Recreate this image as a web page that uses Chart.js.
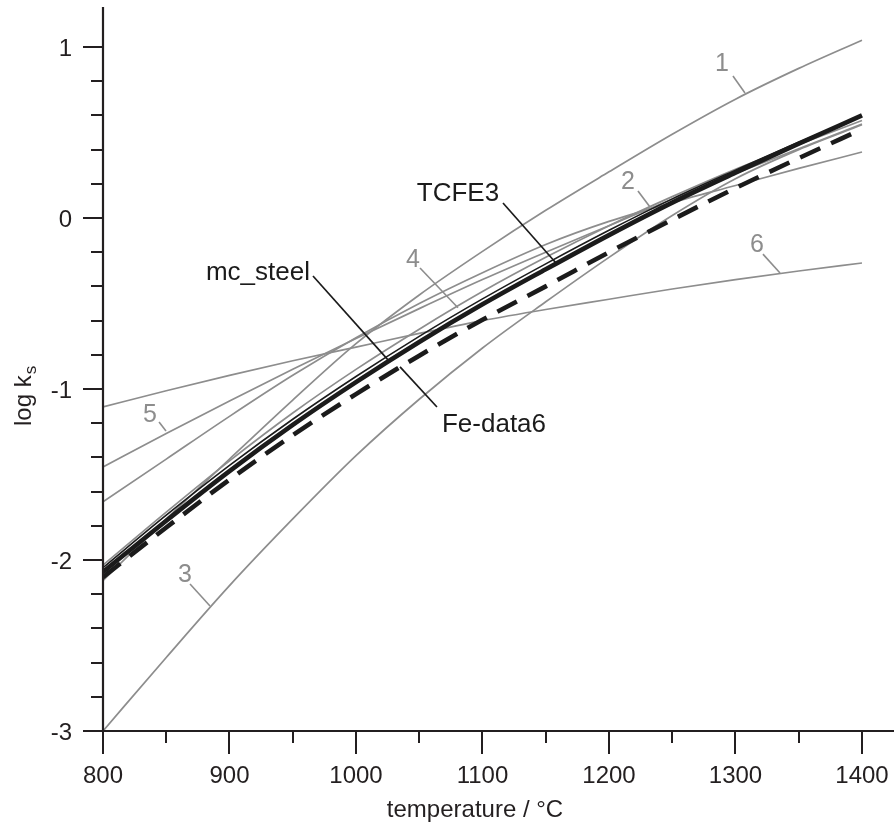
<!DOCTYPE html>
<html>
<head>
<meta charset="utf-8">
<script src="https://cdn.jsdelivr.net/npm/chart.js@4.4.1/dist/chart.umd.min.js"></script>
<style>
html,body{margin:0;padding:0;background:#fff;}
#wrap{width:894px;height:825px;}
</style>
</head>
<body>
<div id="wrap"><canvas id="c" width="894" height="825"></canvas></div>
<script>
// ---- data ----
const temps   = [800, 850, 900, 950, 1000, 1050, 1100, 1150, 1200, 1250, 1300, 1350, 1400];
const curve1  = [-2.12, -1.76, -1.41, -1.065, -0.735, -0.45, -0.195, 0.045, 0.27, 0.49, 0.695, 0.875, 1.04];
const curve2  = [-1.66, -1.41, -1.16, -0.92, -0.70, -0.50, -0.32, -0.155, -0.02, 0.09, 0.19, 0.29, 0.386];
const curve3  = [-3.0, -2.57, -2.15, -1.76, -1.39, -1.06, -0.76, -0.49, -0.23, 0.015, 0.23, 0.40, 0.545];
const curve4  = [-2.03, -1.72, -1.42, -1.14, -0.885, -0.65, -0.43, -0.23, -0.045, 0.125, 0.285, 0.43, 0.57];
const curve5  = [-1.456, -1.26, -1.07, -0.885, -0.705, -0.53, -0.36, -0.20, -0.045, 0.11, 0.26, 0.405, 0.55];
const curve6  = [-1.105, -1.01, -0.92, -0.835, -0.755, -0.675, -0.60, -0.535, -0.475, -0.415, -0.36, -0.31, -0.263];
const mcSteel = [-2.07, -1.77, -1.48, -1.21, -0.96, -0.725, -0.505, -0.30, -0.10, 0.09, 0.265, 0.435, 0.60];
const tcfe3   = [-2.045, -1.738, -1.447, -1.177, -0.927, -0.692, -0.473, -0.268, -0.072, 0.112, 0.28, 0.443, 0.597];
const feData6 = [-2.10, -1.81, -1.53, -1.27, -1.03, -0.805, -0.595, -0.40, -0.20, -0.01, 0.175, 0.35, 0.52];

const xMajorTicks = [800, 900, 1000, 1100, 1200, 1300, 1400];
const xMinorTicks = [850, 950, 1050, 1150, 1250, 1350];
const yMajorTicks = [-3, -2, -1, 0, 1];
const yMinorTicks = [-2.8, -2.6, -2.4, -2.2, -1.8, -1.6, -1.4, -1.2, -0.8, -0.6, -0.4, -0.2, 0.2, 0.4, 0.6, 0.8];

const xTitle = 'temperature / °C';
const yTitleMain = 'log k';
const yTitleSub = 's';

// curve labels: [text, textT, textY, leaderT1, leaderY1, leaderT2, leaderY2, kind]
const curveLabels = [
  ['1', 1289.3, 0.912, 1298.0, 0.830, 1307.5, 0.731, 'num'],
  ['2', 1215.0, 0.222, 1222.9, 0.158, 1232.4, 0.065, 'num'],
  ['3', 864.8, -2.076, 868.8, -2.140, 884.6, -2.269, 'num'],
  ['4', 1045.1, -0.234, 1050.6, -0.292, 1080.6, -0.525, 'num'],
  ['5', 837.2, -1.140, 844.3, -1.193, 849.8, -1.245, 'num'],
  ['6', 1317.0, -0.146, 1321.7, -0.211, 1335.2, -0.322, 'num'],
  ['TCFE3', 1080.6, 0.152, 1116.2, 0.088, 1158.1, -0.263, 'name'],
  ['mc_steel', 922.5, -0.310, 966.0, -0.339, 1025.3, -0.830, 'name'],
  ['Fe-data6', 1109.1, -1.199, 1034.8, -0.871, 1064.0, -1.105, 'name']
];

const GRAY = '#8d8d8d';
const BLACK = '#1b1b1b';
const AXIS = '#231f20';
const FONT = '"Liberation Sans", Arial, Helvetica, sans-serif';

function pts(arr){ return temps.map((t,i)=>({x:t, y:arr[i]})); }

function grayDs(label, arr){
  return {label, data: pts(arr), borderColor: GRAY, borderWidth: 1.7, pointRadius: 0,
          cubicInterpolationMode: 'monotone', fill: false};
}

const datasets = [
  {label:'TCFE3', data: pts(tcfe3), borderColor: BLACK, borderWidth: 1.6, pointRadius: 0,
   cubicInterpolationMode: 'monotone', fill: false},
  {label:'mc_steel', data: pts(mcSteel), borderColor: BLACK, borderWidth: 4.6, pointRadius: 0,
   cubicInterpolationMode: 'monotone', fill: false},
  {label:'Fe-data6', data: pts(feData6), borderColor: BLACK, borderWidth: 4.6, pointRadius: 0,
   borderDash: [22, 12], borderCapStyle: 'butt', cubicInterpolationMode: 'monotone', fill: false},
  grayDs('1', curve1),
  grayDs('2', curve2),
  grayDs('3', curve3),
  grayDs('4', curve4),
  grayDs('5', curve5),
  grayDs('6', curve6)
];

const decorPlugin = {
  id: 'decor',
  afterDatasetsDraw(chart){
    const ctx = chart.ctx;
    const xs = chart.scales.x, ys = chart.scales.y;
    const X = v => xs.getPixelForValue(v);
    const Y = v => ys.getPixelForValue(v);
    const x0 = X(800), y0 = Y(-3);
    const area = chart.chartArea;
    ctx.save();
    // axes
    ctx.strokeStyle = AXIS;
    ctx.lineWidth = 2.2;
    ctx.lineCap = 'butt';
    ctx.beginPath();
    ctx.moveTo(x0, area.top); ctx.lineTo(x0, y0 + 1.1);
    ctx.moveTo(x0 - 1.1, y0); ctx.lineTo(area.right, y0);
    ctx.stroke();
    // ticks
    ctx.lineWidth = 2;
    ctx.beginPath();
    xMajorTicks.forEach(t => { const px = Math.round(X(t)); ctx.moveTo(px, y0); ctx.lineTo(px, y0 + 23); });
    xMinorTicks.forEach(t => { const px = Math.round(X(t)); ctx.moveTo(px, y0); ctx.lineTo(px, y0 + 12); });
    yMajorTicks.forEach(v => { const py = Math.round(Y(v)); ctx.moveTo(x0, py); ctx.lineTo(x0 - 20, py); });
    yMinorTicks.forEach(v => { const py = Math.round(Y(v)); ctx.moveTo(x0, py); ctx.lineTo(x0 - 12, py); });
    ctx.stroke();
    // tick labels
    ctx.fillStyle = AXIS;
    ctx.font = '24px ' + FONT;
    ctx.textAlign = 'center';
    ctx.textBaseline = 'alphabetic';
    xMajorTicks.forEach(t => ctx.fillText(String(t), X(t), y0 + 52));
    ctx.textAlign = 'right';
    yMajorTicks.forEach(v => ctx.fillText(String(v), x0 - 31, Y(v) + 8.5));
    // x title
    ctx.textAlign = 'center';
    ctx.font = '24px ' + FONT;
    ctx.fillText(xTitle, 475, 817);
    // y title with subscript
    ctx.save();
    ctx.translate(31, 426);
    ctx.rotate(-Math.PI / 2);
    ctx.textAlign = 'left';
    ctx.font = '24px ' + FONT;
    ctx.fillText(yTitleMain, 0, 0);
    const w = ctx.measureText(yTitleMain).width;
    ctx.font = '17px ' + FONT;
    ctx.fillText(yTitleSub, w + 1, 5);
    ctx.restore();
    // curve labels with leaders
    curveLabels.forEach(l => {
      const [txt, tt, ty, a1, b1, a2, b2, kind] = l;
      const col = kind === 'num' ? GRAY : BLACK;
      ctx.strokeStyle = col;
      ctx.lineWidth = kind === 'num' ? 1.6 : 1.7;
      ctx.beginPath();
      ctx.moveTo(X(a1), Y(b1));
      ctx.lineTo(X(a2), Y(b2));
      ctx.stroke();
      ctx.fillStyle = col;
      ctx.font = (kind === 'num' ? '25px ' : '26px ') + FONT;
      ctx.textAlign = 'center';
      ctx.textBaseline = 'alphabetic';
      ctx.fillText(txt, X(tt), Y(ty) + (kind === 'num' ? 9 : 9.3));
    });
    ctx.restore();
  }
};

new Chart(document.getElementById('c').getContext('2d'), {
  type: 'line',
  data: { datasets },
  options: {
    responsive: false,
    animation: false,
    devicePixelRatio: 1,
    layout: { padding: { left: 103, right: 0, top: 7, bottom: 94 } },
    plugins: { legend: { display: false }, tooltip: { enabled: false } },
    scales: {
      x: { type: 'linear', min: 800, max: 1425.3, display: false },
      y: { type: 'linear', min: -3, max: 1.234, display: false }
    },
    elements: { line: { borderJoinStyle: 'round' } }
  },
  plugins: [decorPlugin]
});
</script>
</body>
</html>
